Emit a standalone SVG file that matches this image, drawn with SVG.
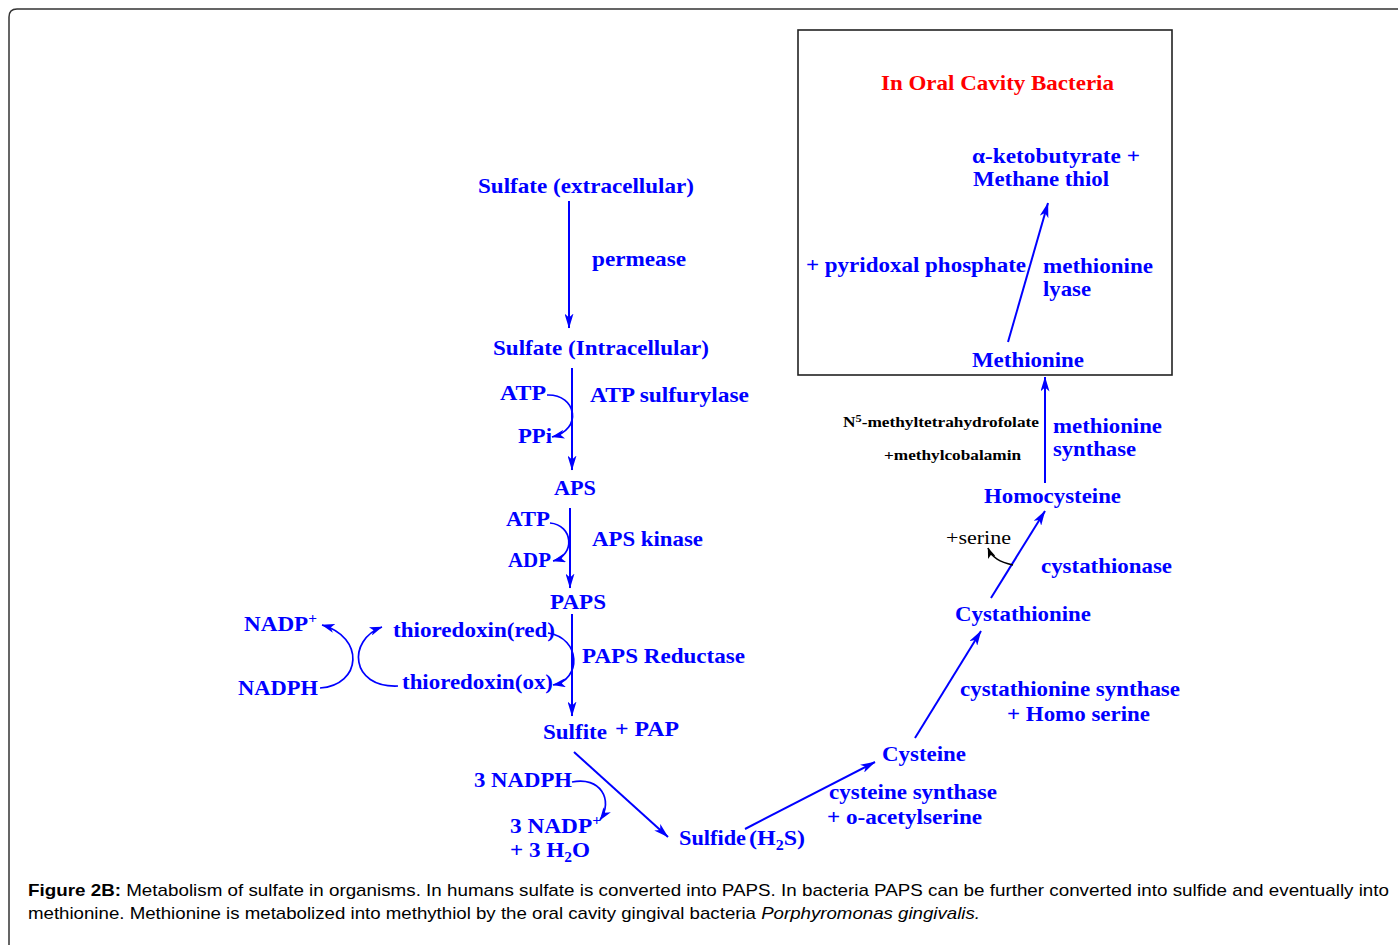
<svg xmlns="http://www.w3.org/2000/svg" width="1398" height="945" viewBox="0 0 1398 945">
<defs>
<marker id="ah" viewBox="0 0 15 9" refX="14.5" refY="4.5" markerWidth="15" markerHeight="9" markerUnits="userSpaceOnUse" orient="auto">
<path d="M0,0 L15,4.5 L0,9 L4,4.5 z" fill="#0000ff"/>
</marker>
<marker id="ahs" viewBox="0 0 13 9" refX="12.5" refY="4.5" markerWidth="13" markerHeight="9" markerUnits="userSpaceOnUse" orient="auto">
<path d="M0,0 L13,4.5 L0,9 L3.5,4.5 z" fill="#0000ff"/>
</marker>
<marker id="ahk" viewBox="0 0 12 9" refX="11.5" refY="4.5" markerWidth="11" markerHeight="8" markerUnits="userSpaceOnUse" orient="auto">
<path d="M0,0 L12,4.5 L0,9 L3,4.5 z" fill="#000"/>
</marker>
</defs>
<style>
.t{font-family:"Liberation Serif","Times New Roman",serif;font-weight:bold;font-size:21px;fill:#0000ff}
.t2{font-size:20px}
.k{font-family:"Liberation Serif","Times New Roman",serif;font-weight:bold;font-size:14px;fill:#000}
.r{fill:#ff0000}
.a{stroke:#0000ff;stroke-width:2;fill:none;marker-end:url(#ah)}
.c{stroke:#0000ff;stroke-width:1.7;fill:none;marker-end:url(#ahs)}
.cap{font-family:"Liberation Sans",Arial,sans-serif;font-size:17px;fill:#000}
</style>
<rect width="1398" height="945" fill="#fff"/>
<path d="M9,960 L9,17 Q9,9 17,9 L1410,9" fill="none" stroke="#333" stroke-width="1.5"/>

<g id="oral-box">
<rect x="798" y="30" width="374" height="345" fill="none" stroke="#222" stroke-width="1.6"/>
<text class="t r" x="881" y="90" textLength="233" lengthAdjust="spacingAndGlyphs">In Oral Cavity Bacteria</text>
</g>

<g id="products"><text class="t t2" x="972" y="163" textLength="168" lengthAdjust="spacingAndGlyphs">α-ketobutyrate +</text><text class="t t2" x="973" y="186" textLength="136" lengthAdjust="spacingAndGlyphs">Methane thiol</text></g>
<g id="pyridoxal"><text class="t" x="806" y="272" textLength="220" lengthAdjust="spacingAndGlyphs">+ pyridoxal phosphate</text></g>
<g id="methionine-lyase"><text class="t" x="1043" y="273" textLength="110" lengthAdjust="spacingAndGlyphs">methionine</text><text class="t" x="1043" y="296" textLength="48" lengthAdjust="spacingAndGlyphs">lyase</text></g>
<g id="methionine"><text class="t" x="972" y="367" textLength="112" lengthAdjust="spacingAndGlyphs">Methionine</text></g>
<g id="n5"><text class="k" x="843" y="427" textLength="196" lengthAdjust="spacingAndGlyphs">N<tspan dy="-5" font-size="10">5</tspan><tspan dy="5">-methyltetrahydrofolate</tspan></text><text class="k" x="884" y="460" textLength="137" lengthAdjust="spacingAndGlyphs">+methylcobalamin</text></g>
<g id="methionine-synthase"><text class="t t2" x="1053" y="433" textLength="109" lengthAdjust="spacingAndGlyphs">methionine</text><text class="t t2" x="1053" y="456" textLength="83" lengthAdjust="spacingAndGlyphs">synthase</text></g>
<g id="homocysteine"><text class="t" x="984" y="503" textLength="137" lengthAdjust="spacingAndGlyphs">Homocysteine</text></g>
<g id="serine"><text x="946" y="544" textLength="65" lengthAdjust="spacingAndGlyphs" style="font-family:'Liberation Serif',serif;font-size:19px;fill:#000">+serine</text></g>
<g id="cystathionase"><text class="t" x="1041" y="573" textLength="131" lengthAdjust="spacingAndGlyphs">cystathionase</text></g>
<g id="cystathionine"><text class="t" x="955" y="621" textLength="136" lengthAdjust="spacingAndGlyphs">Cystathionine</text></g>
<g id="cystathionine-synthase"><text class="t" x="960" y="696" textLength="220" lengthAdjust="spacingAndGlyphs">cystathionine synthase</text><text class="t" x="1007" y="721" textLength="143" lengthAdjust="spacingAndGlyphs">+ Homo serine</text></g>
<g id="cysteine"><text class="t" x="882" y="761" textLength="84" lengthAdjust="spacingAndGlyphs">Cysteine</text></g>
<g id="cysteine-synthase"><text class="t" x="829" y="799" textLength="168" lengthAdjust="spacingAndGlyphs">cysteine synthase</text><text class="t" x="827" y="824" textLength="155" lengthAdjust="spacingAndGlyphs">+ o-acetylserine</text></g>
<g id="sulfide"><text class="t" x="679" y="845" textLength="67" lengthAdjust="spacingAndGlyphs">Sulfide</text><text class="t" x="749" y="845" textLength="56" lengthAdjust="spacingAndGlyphs">(H<tspan dy="5" font-size="14">2</tspan><tspan dy="-5">S)</tspan></text></g>
<g id="nadph3"><text class="t" x="474" y="787" textLength="98" lengthAdjust="spacingAndGlyphs">3 NADPH</text></g>
<g id="nadp3"><text class="t" x="510" y="833" textLength="91" lengthAdjust="spacingAndGlyphs">3 NADP<tspan dy="-8" font-size="14">+</tspan></text><text class="t" x="510" y="857" textLength="80" lengthAdjust="spacingAndGlyphs">+ 3 H<tspan dy="5" font-size="14">2</tspan><tspan dy="-5">O</tspan></text></g>
<g id="sulfite"><text class="t" x="543" y="739" textLength="64" lengthAdjust="spacingAndGlyphs">Sulfite</text><text class="t" x="615" y="736" textLength="64" lengthAdjust="spacingAndGlyphs">+ PAP</text></g>
<g id="paps"><text class="t" x="550" y="609" textLength="56" lengthAdjust="spacingAndGlyphs">PAPS</text></g>
<g id="paps-reductase"><text class="t" x="582" y="663" textLength="163" lengthAdjust="spacingAndGlyphs">PAPS Reductase</text></g>
<g id="trx-red"><text class="t" x="393" y="637" textLength="162" lengthAdjust="spacingAndGlyphs">thioredoxin(red)</text></g>
<g id="trx-ox"><text class="t" x="402" y="689" textLength="151" lengthAdjust="spacingAndGlyphs">thioredoxin(ox)</text></g>
<g id="nadp"><text class="t" x="244" y="631" textLength="73" lengthAdjust="spacingAndGlyphs">NADP<tspan dy="-8" font-size="14">+</tspan></text></g>
<g id="nadph"><text class="t" x="238" y="695" textLength="80" lengthAdjust="spacingAndGlyphs">NADPH</text></g>
<g id="aps"><text class="t" x="554" y="495" textLength="42" lengthAdjust="spacingAndGlyphs">APS</text></g>
<g id="atp2"><text class="t" x="506" y="526" textLength="44" lengthAdjust="spacingAndGlyphs">ATP</text></g>
<g id="adp"><text class="t" x="508" y="567" textLength="43" lengthAdjust="spacingAndGlyphs">ADP</text></g>
<g id="aps-kinase"><text class="t" x="592" y="546" textLength="111" lengthAdjust="spacingAndGlyphs">APS kinase</text></g>
<g id="atp1"><text class="t" x="500" y="400" textLength="46" lengthAdjust="spacingAndGlyphs">ATP</text></g>
<g id="ppi"><text class="t" x="518" y="443" textLength="34" lengthAdjust="spacingAndGlyphs">PPi</text></g>
<g id="atp-sulfurylase"><text class="t" x="590" y="402" textLength="159" lengthAdjust="spacingAndGlyphs">ATP sulfurylase</text></g>
<g id="sulfate-intra"><text class="t" x="493" y="355" textLength="216" lengthAdjust="spacingAndGlyphs">Sulfate (Intracellular)</text></g>
<g id="sulfate-extra"><text class="t" x="478" y="193" textLength="216" lengthAdjust="spacingAndGlyphs">Sulfate (extracellular)</text></g>
<g id="permease"><text class="t" x="592" y="266" textLength="94" lengthAdjust="spacingAndGlyphs">permease</text></g>

<g id="connectors">
<line class="a" x1="569" y1="201" x2="569" y2="328"/>
<line class="a" x1="572" y1="368" x2="572" y2="470"/>
<path class="c" d="M547,395 C577,394 583,430 552,437"/>
<line class="a" x1="570" y1="508" x2="570" y2="588"/>
<path class="c" d="M550,523 C573,525 576,555 553,561"/>
<line class="a" x1="572" y1="614" x2="572" y2="716"/>
<path class="c" d="M548,633 C581,638 582,680 553,685"/>
<path class="c" d="M320,688 C362,685 365,637 322,625"/>
<path class="c" d="M398,686 C350,688 347,640 382,627"/>
<line class="a" x1="574" y1="752" x2="668" y2="837"/>
<path class="c" d="M572,782 C600,776 614,800 600,820"/>
<line class="a" x1="745" y1="829" x2="875" y2="762"/>
<line class="a" x1="915" y1="738" x2="981" y2="631"/>
<line class="a" x1="991" y1="598" x2="1045" y2="511"/>
<path d="M1013,565 C1000,562 992,558 988,548" stroke="#000" stroke-width="1.6" fill="none" marker-end="url(#ahk)"/>
<line class="a" x1="1045" y1="483" x2="1045" y2="377"/>
<line class="a" x1="1008" y1="342" x2="1048" y2="203"/>
</g>

<g id="caption">
<text class="cap" x="28" y="896" textLength="1361" lengthAdjust="spacingAndGlyphs"><tspan font-weight="bold">Figure 2B:</tspan> Metabolism of sulfate in organisms. In humans sulfate is converted into PAPS. In bacteria PAPS can be further converted into sulfide and eventually into</text>
<text class="cap" x="28" y="919" textLength="952" lengthAdjust="spacingAndGlyphs">methionine. Methionine is metabolized into methythiol by the oral cavity gingival bacteria <tspan font-style="italic">Porphyromonas gingivalis.</tspan></text>
</g>
</svg>
